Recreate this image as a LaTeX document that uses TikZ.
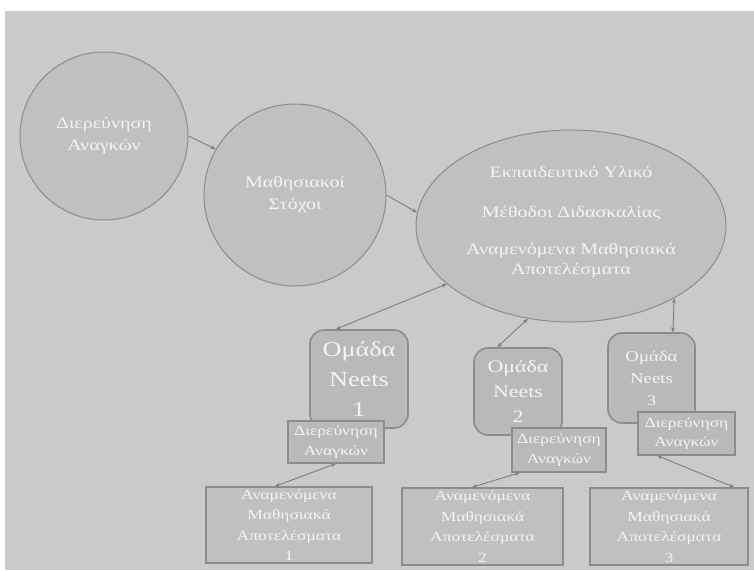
\documentclass[tikz,border=0pt]{standalone}
\usepackage{fontspec}
\setmainfont[FakeStretch=1.25]{Liberation Serif}
\usetikzlibrary{arrows.meta}
\usetikzlibrary{shapes.geometric}

\definecolor{bggray}{HTML}{CACACA}
\definecolor{shapegray}{HTML}{C0C0C0}
\definecolor{boxgray}{HTML}{B9B9B9}
\definecolor{edgegray}{HTML}{8C8C8C}
\definecolor{arrowgray}{HTML}{7E7E7E}
\definecolor{txtwhite}{HTML}{F4F4F4}

\begin{document}
\begin{tikzpicture}[
    x=1pt, y=-1pt,
    >={Stealth[length=5pt,width=4pt]},
    every node/.style={text=txtwhite, align=center, inner sep=0pt},
    line width=0.9pt,
    bubble/.style={circle, draw=edgegray, fill=shapegray, line width=1pt,
        font=\fontsize{16}{22}\selectfont},
    plantext/.style={font=\fontsize{16}{20}\selectfont},
    group/.style={rectangle, rounded corners=14pt, draw=edgegray, fill=boxgray,
        line width=1.6pt},
    needbox/.style={rectangle, draw=edgegray, fill=boxgray, line width=1.2pt,
        font=\fontsize{14}{19.5}\selectfont},
    resbox/.style={rectangle, draw=edgegray, fill=shapegray, line width=1.4pt,
        font=\fontsize{14}{20.5}\selectfont},
    link/.style={draw=arrowgray, line width=0.9pt}
]

% page and background
\fill[white] (0,0) rectangle (754,570);
\fill[bggray] (5,11) rectangle (754,570);
\useasboundingbox (0,0) rectangle (754,570);

% upper row
\node[bubble, minimum size=168pt] (needs) at (104,136) {Διερεύνηση\\Αναγκών};
\node[bubble, minimum size=182pt] (goals) at (295,195) {Μαθησιακοί\\Στόχοι};
\node[ellipse, draw=edgegray, fill=shapegray, line width=1pt,
      minimum width=310pt, minimum height=192pt] (plan) at (571,226) {};
\node[plantext] (material) at (571,172) {Εκπαιδευτικό Υλικό};
\node[plantext] (methods) at (571,213) {Μέθοδοι Διδασκαλίας};
\node[plantext] (outcomes) at (571,261) {Αναμενόμενα Μαθησιακά\\Αποτελέσματα};

\draw[link,->] (needs.east) -- (goals.150);
\draw[link,->] (goals.east) -- (plan.175);

% groups
\node[group, minimum width=98pt, minimum height=98pt,
      font=\fontsize{21}{30}\selectfont] (grp1) at (359,379) {Ομάδα\\Neets\\1};
\node[group, minimum width=88pt, minimum height=87pt,
      font=\fontsize{17.5}{25}\selectfont] (grp2) at (518,391.5) {Ομάδα\\Neets\\2};
\node[group, minimum width=87pt, minimum height=90pt,
      font=\fontsize{15}{22}\selectfont] (grp3) at (651.5,378) {Ομάδα\\Neets\\3};

\draw[link,<->] (plan.205) -- (grp1.115);
\draw[link,<->] (plan.245) -- (grp2.115);
\draw[link,<->] (plan.325) -- (grp3.65);

% needs analysis per group
\node[needbox, minimum width=96pt, minimum height=42pt] (dn1) at (336,442) {Διερεύνηση\\Αναγκών};
\node[needbox, minimum width=94pt, minimum height=44pt] (dn2) at (559,450) {Διερεύνηση\\Αναγκών};
\node[needbox, minimum width=97pt, minimum height=43pt] (dn3) at (686.5,433.5) {Διερεύνηση\\Αναγκών};

% expected outcomes
\node[resbox, minimum width=166pt, minimum height=76pt] (res1) at (289,525)
    {Αναμενόμενα\\Μαθησιακά\\Αποτελέσματα\\1};
\node[resbox, minimum width=161pt, minimum height=77pt] (res2) at (482.5,526.5)
    {Αναμενόμενα\\Μαθησιακά\\Αποτελέσματα\\2};
\node[resbox, minimum width=158pt, minimum height=77pt] (res3) at (669,526.5)
    {Αναμενόμενα\\Μαθησιακά\\Αποτελέσματα\\3};

\draw[link,<->] (dn1.south) -- (res1.110);
\draw[link,<->] (dn2.210) -- (res2.105);
\draw[link,<->] (dn3.217) -- (res3.31);

\end{tikzpicture}
\end{document}
